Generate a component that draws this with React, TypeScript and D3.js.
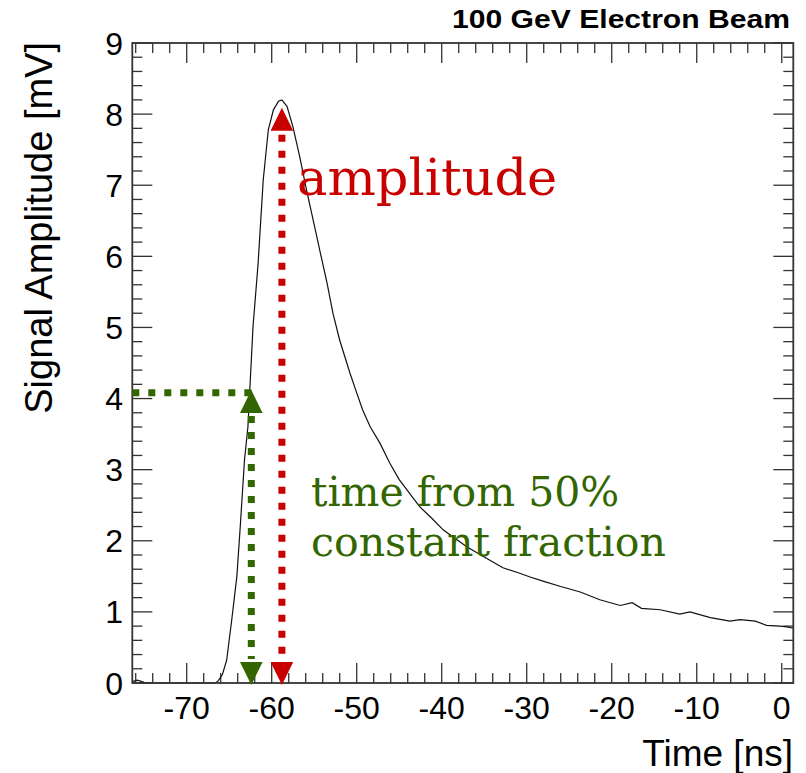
import React from "react";
import * as d3 from "d3";

const W = 806;
const H = 773;

// waveform samples (time in ns, amplitude in mV)
const timeNs = [
  -76.4, -75.8, -75.0, -74.0, -72.0, -70.0, -68.0, -67.0, -66.5, -66.3, -65.8, -65.3, -64.7, -64.1,
  -63.7, -63.2, -62.8, -62.6, -62.4, -62.2, -61.6, -61.0, -60.4, -59.8, -59.2, -58.8, -58.2, -57.5,
  -56.7, -55.9, -54.7, -54.3, -53.5, -52.8, -52.0, -50.8, -50.0, -49.3, -48.4, -47.3, -46.1, -45.0,
  -43.8, -42.6, -41.2, -39.8, -37.1, -35.1, -32.8, -31.0, -29.6, -28.0, -26.1, -23.7, -21.4, -19.0,
  -17.6, -16.5, -14.3, -12.0, -10.8, -8.4, -6.1, -4.9, -3.1, -1.8, -0.2, 0.6, 1.36,
];
const amplitudeMv = [
  0.02, 0.04, 0.01, 0.0, 0.0, 0.0, 0.0, 0.0, 0.01, 0.03, 0.12, 0.32, 0.89, 1.5,
  2.2, 3.14, 3.6, 4.07, 4.54, 5.01, 5.9, 7.07, 7.78, 8.06, 8.18, 8.2, 8.11, 7.82,
  7.4, 6.93, 6.28, 6.06, 5.63, 5.2, 4.82, 4.36, 4.08, 3.84, 3.6, 3.38, 3.09, 2.86,
  2.67, 2.48, 2.32, 2.15, 1.92, 1.78, 1.62, 1.55, 1.49, 1.43, 1.36, 1.28, 1.17, 1.09,
  1.13, 1.05, 1.03, 0.97, 1.0, 0.92, 0.87, 0.89, 0.87, 0.81, 0.8, 0.79, 0.77,
];

const xDomain = [-76.4, 1.36];
const yDomain = [0, 9];
const xMajorTicks = [-70, -60, -50, -40, -30, -20, -10, 0];
const yMajorTicks = [0, 1, 2, 3, 4, 5, 6, 7, 8, 9];

// annotations
const amplitudeTime = -58.8;
const amplitudePeak = 8.09;
const cfdTime = -62.4;
const cfdLevel = 4.08;
const cfdArrowTip = 4.12;

const title = "100 GeV Electron Beam";
const xTitle = "Time [ns]";
const yTitle = "Signal Amplitude [mV]";
const amplitudeLabel = "amplitude";
const cfdLabel = ["time from 50%", "constant fraction"];

const RED = "#c80000";
const GREEN = "#336600";

export default function App() {
  const left = 132.3;
  const right = 793.3;
  const top = 43;
  const bottom = 683;

  const x = d3.scaleLinear().domain(xDomain).range([left, right]);
  const y = d3.scaleLinear().domain(yDomain).range([bottom, top]);

  const pts: [number, number][] = timeNs.map((t, i) => [t, amplitudeMv[i]]);
  const line = d3
    .line<[number, number]>()
    .x((d) => x(d[0]))
    .y((d) => y(d[1]));

  const xMinor: number[] = [];
  for (let v = -76; v <= 1.36; v += 2) xMinor.push(v);
  const yMinor: number[] = [];
  for (let i = 0; i <= 45; i++) yMinor.push(i * 0.2);

  const MAJ = 20;
  const MIN = 10;
  const axisColor = "#333";

  const ahW = 11.3; // arrowhead half width
  const ahH = 23;

  const redX = x(amplitudeTime);
  const redTop = y(amplitudePeak);
  const redBot = y(0) + 2;
  const greenX = x(cfdTime);
  const greenTop = y(cfdArrowTip);
  const greenBot = y(0) + 2;

  const sans = "'Liberation Sans', Arial, Helvetica, sans-serif";
  const serif = "'DejaVu Serif', serif";

  return (
    <svg
      width={W}
      height={H}
      style={{ position: "absolute", left: 0, top: 0, background: "#fff" }}
    >
      <rect x={0} y={0} width={W} height={H} fill="#fff" />

      {/* ticks */}
      <g stroke={axisColor} strokeWidth={1.3}>
        {xMinor.map((v) => {
          const isMajor = xMajorTicks.includes(v);
          const len = isMajor ? MAJ : MIN;
          return (
            <g key={"xt" + v}>
              <line x1={x(v)} x2={x(v)} y1={bottom} y2={bottom - len} />
              <line x1={x(v)} x2={x(v)} y1={top} y2={top + len} />
            </g>
          );
        })}
        {yMinor.map((v, i) => {
          const isMajor = i % 5 === 0;
          const len = isMajor ? MAJ : MIN;
          return (
            <g key={"yt" + i}>
              <line x1={left} x2={left + len} y1={y(v)} y2={y(v)} />
              <line x1={right} x2={right - len} y1={y(v)} y2={y(v)} />
            </g>
          );
        })}
      </g>

      {/* waveform */}
      <path d={line(pts) || ""} fill="none" stroke="#111" strokeWidth={1.2} />

      {/* frame */}
      <rect
        x={left}
        y={top}
        width={right - left}
        height={bottom - top}
        fill="none"
        stroke={axisColor}
        strokeWidth={1.8}
      />

      {/* green CFD annotation */}
      <line
        x1={left}
        x2={greenX}
        y1={y(cfdLevel)}
        y2={y(cfdLevel)}
        stroke={GREEN}
        strokeWidth={7}
        strokeDasharray="7 9"
      />
      <line
        x1={greenX}
        x2={greenX}
        y1={greenTop + ahH + 3}
        y2={greenBot - ahH - 3}
        stroke={GREEN}
        strokeWidth={7}
        strokeDasharray="7 9"
      />
      <path
        d={`M${greenX},${greenTop} L${greenX - ahW},${greenTop + ahH} L${greenX + ahW},${greenTop + ahH} Z`}
        fill={GREEN}
      />
      <path
        d={`M${greenX},${greenBot} L${greenX - ahW},${greenBot - ahH} L${greenX + ahW},${greenBot - ahH} Z`}
        fill={GREEN}
      />

      {/* red amplitude annotation */}
      <line
        x1={redX}
        x2={redX}
        y1={redTop + ahH + 4}
        y2={redBot - ahH - 3}
        stroke={RED}
        strokeWidth={7}
        strokeDasharray="7 9"
      />
      <path
        d={`M${redX},${redTop} L${redX - ahW},${redTop + ahH} L${redX + ahW},${redTop + ahH} Z`}
        fill={RED}
      />
      <path
        d={`M${redX},${redBot} L${redX - ahW},${redBot - ahH} L${redX + ahW},${redBot - ahH} Z`}
        fill={RED}
      />

      {/* annotation texts */}
      <text x={297} y={195} fontFamily={serif} fontSize={51} fill={RED}>
        {amplitudeLabel}
      </text>
      {cfdLabel.map((s, i) => (
        <text
          key={s}
          x={311}
          y={506 + i * 50}
          fontFamily={serif}
          fontSize={41}
          fill={GREEN}
        >
          {s}
        </text>
      ))}

      {/* tick labels */}
      <g fontFamily={sans} fontSize={32} fill="#000">
        {xMajorTicks.map((v) => (
          <text key={"xl" + v} x={x(v)} y={719} textAnchor="middle">
            {v}
          </text>
        ))}
        {yMajorTicks.map((v) => (
          <text key={"yl" + v} x={123} y={y(v) + 11.5} textAnchor="end">
            {v}
          </text>
        ))}
      </g>

      {/* axis titles */}
      <text x={793} y={766} textAnchor="end" fontFamily={sans} fontSize={37} fill="#000">
        {xTitle}
      </text>
      <text
        transform="translate(52,42) rotate(-90)"
        textAnchor="end"
        fontFamily={sans}
        fontSize={38}
        fill="#000"
      >
        {yTitle}
      </text>

      {/* title */}
      <text
        x={452}
        y={28}
        fontFamily={sans}
        fontWeight="bold"
        fontSize={25}
        textLength={338}
        lengthAdjust="spacingAndGlyphs"
        fill="#000"
      >
        {title}
      </text>
    </svg>
  );
}
